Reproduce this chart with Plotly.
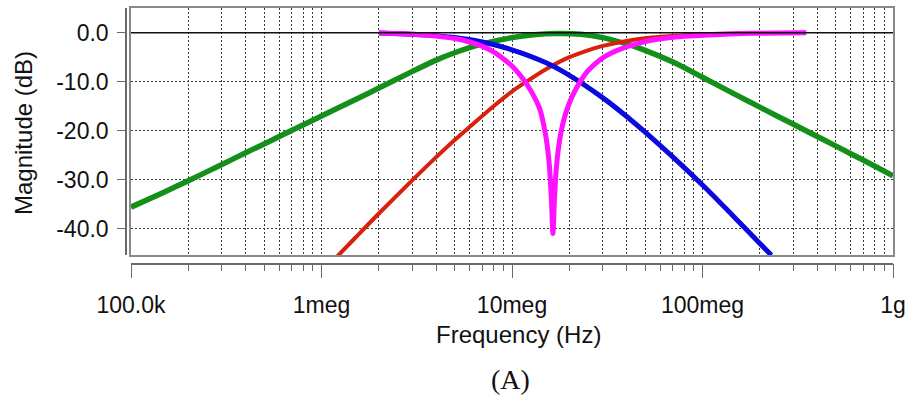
import plotly.graph_objects as go

# ---------------- data ----------------
FREQ_TICKS = [1e5, 1e6, 1e7, 1e8, 1e9]
FREQ_TICK_TEXT = ["100.0k", "1meg", "10meg", "100meg", "1g"]
FREQ_MINOR = [m * d for d in (1e5, 1e6, 1e7, 1e8) for m in range(2, 10)]
DB_TICKS = [0, -10, -20, -30, -40]
DB_TICK_TEXT = ["0.0", "-10.0", "-20.0", "-30.0", "-40.0"]

# band-pass (green)
BP_FREQ = [1e5, 1.5e5, 2e5, 3e5, 4e5, 5e5, 7e5, 1e6, 1.5e6, 2e6, 3e6, 4e6, 5e6, 7e6,
           1e7, 1.3e7, 1.7e7, 2.3e7, 3e7, 4e7, 5e7, 7e7, 1e8, 1.5e8, 2e8, 3e8, 4.3e8,
           6e8, 8e8, 1e9]
BP_DB = [-35.6, -32.5, -30.2, -26.9, -24.5, -22.7, -19.9, -17.0, -13.7, -11.3, -7.9,
         -5.6, -4.1, -2.3, -1.0, -0.4, -0.15, -0.3, -1.0, -2.3, -3.6, -6.0, -9.1,
         -12.7, -15.2, -18.7, -21.8, -24.7, -27.2, -29.2]

# low-pass (blue)
LP_FREQ = [2e6, 3e6, 4e6, 5e6, 7e6, 1e7, 1.5e7, 2e7, 3e7, 4e7, 5e7, 7e7, 1e8, 1.5e8,
           2e8, 2.3e8]
LP_DB = [-0.05, -0.3, -0.6, -1.0, -1.9, -3.5, -6.1, -8.7, -13.3, -17.1, -20.3, -25.4,
         -31.1, -38.0, -43.0, -45.4]

# high-pass (red)
HP_FREQ = [1.2e6, 1.5e6, 2e6, 3e6, 4e6, 5e6, 6e6, 8e6, 1e7, 1.2e7, 1.5e7, 2e7, 2.5e7,
           3e7, 4e7, 5e7, 6e7, 8e7, 1e8, 1.5e8, 2e8, 3.5e8]
HP_DB = [-45.8, -41.9, -36.9, -30.1, -25.4, -21.9, -19.2, -15.0, -12.0, -9.9, -7.5,
         -5.0, -3.6, -2.7, -1.7, -1.15, -0.85, -0.5, -0.33, -0.15, -0.08, 0.0]

# notch (magenta)
BS_FREQ = [2e6, 3e6, 4e6, 5e6, 6e6, 7e6, 8e6, 9e6, 1e7, 1.1e7, 1.2e7, 1.3e7, 1.4e7,
           1.47e7, 1.52e7, 1.57e7, 1.61e7, 1.64e7, 1.67e7, 1.71e7, 1.78e7, 1.85e7,
           1.95e7, 2.07e7, 2.28e7, 2.5e7, 2.9e7, 3.3e7, 3.8e7, 4.5e7, 5e7, 6.2e7,
           8e7, 1.14e8, 1.5e8, 2e8, 3.5e8]
BS_DB = [-0.05, -0.3, -0.7, -1.2, -1.9, -2.8, -3.9, -5.3, -6.8, -8.6, -10.6, -12.9,
         -15.6, -19.0, -22.2, -27.0, -34.0, -41.0, -34.0, -27.5, -21.8, -18.5, -15.5,
         -13.0, -10.0, -7.8, -5.5, -4.2, -3.2, -2.3, -1.8, -1.2, -0.75, -0.4, -0.2,
         -0.1, 0.0]

# flat 0 dB reference (black)
REF_FREQ = [1e5, 1e9]
REF_DB = [0.0, 0.0]

# ---------------- figure ----------------
W, H = 911, 396
PX_L, PX_R, PX_T, PX_B = 131, 893, 8, 255
X_DOM = [PX_L / W, PX_R / W]
Y_DOM = [1 - PX_B / H, 1 - PX_T / H]
Y_RANGE = [-45.37, 5.04]
X_RANGE = [5, 9]

FONT = "Liberation Sans, Arial, Helvetica, sans-serif"
GRID = "#3a3a3a"
DOTS = "1.5px,2.5px"

fig = go.Figure()

series = [
    (BP_FREQ, BP_DB, "#14901a", 5.5),
    (HP_FREQ, HP_DB, "#d8200c", 4),
    (LP_FREQ, LP_DB, "#0a0ae0", 5),
    (BS_FREQ, BS_DB, "#ff12ff", 5),
]
for fx, dby, col, w in series:
    fig.add_trace(go.Scatter(x=fx, y=dby, mode="lines",
                             line=dict(color=col, width=w, shape="spline", smoothing=0.8),
                             showlegend=False, hoverinfo="skip", cliponaxis=True))

fig.add_trace(go.Scatter(x=REF_FREQ, y=REF_DB, mode="lines",
                         line=dict(color="#111111", width=1.6),
                         showlegend=False, hoverinfo="skip"))

# empty trace so the detached axes form their own subplot
fig.add_trace(go.Scatter(x=[], y=[], xaxis="x2", yaxis="y2", showlegend=False))

fig.update_layout(
    width=W, height=H,
    margin=dict(l=0, r=0, t=0, b=0, autoexpand=False),
    paper_bgcolor="white", plot_bgcolor="white",
    font=dict(family=FONT, size=23, color="#111111"),
    xaxis=dict(
        type="log", range=X_RANGE, domain=X_DOM, automargin=False,
        showline=True, mirror=True, linecolor="#8a8a8a", linewidth=1.5,
        ticks="", showticklabels=False,
        tickvals=FREQ_TICKS,
        showgrid=True, gridcolor=GRID, gridwidth=1, griddash=DOTS,
        minor=dict(tickvals=FREQ_MINOR, showgrid=True, gridcolor=GRID,
                   gridwidth=1, griddash=DOTS, ticks=""),
        zeroline=False,
    ),
    yaxis=dict(
        range=Y_RANGE, domain=Y_DOM, automargin=False,
        showline=True, mirror=True, linecolor="#8a8a8a", linewidth=1.5,
        ticks="", showticklabels=False,
        tickvals=DB_TICKS,
        showgrid=True, gridcolor=GRID, gridwidth=1, griddash=DOTS,
        zeroline=False,
    ),
    xaxis2=dict(
        type="log", range=X_RANGE, overlaying="x", anchor="free", automargin=False,
        position=1 - 263.5 / H, side="bottom",
        showline=True, linecolor="#6a6a6a", linewidth=1.5,
        tickvals=FREQ_TICKS, ticktext=FREQ_TICK_TEXT,
        ticks="outside", ticklen=14, tickwidth=1.3, tickcolor="#6a6a6a",
        minor=dict(tickvals=FREQ_MINOR, ticks="outside", ticklen=7,
                   tickwidth=1.2, tickcolor="#6a6a6a", showgrid=False),
        showgrid=False, zeroline=False,
        ticklabelstandoff=7,
        tickfont=dict(family=FONT, size=23, color="#111111"),
    ),
    yaxis2=dict(
        range=Y_RANGE, overlaying="y", anchor="free", automargin=False,
        position=126 / W, side="left",
        showline=True, linecolor="#6a6a6a", linewidth=1.5,
        tickvals=DB_TICKS, ticktext=DB_TICK_TEXT,
        ticks="outside", ticklen=8, tickwidth=1.3, tickcolor="#6a6a6a",
        showgrid=False, zeroline=False,
        ticklabelstandoff=4,
        tickfont=dict(family=FONT, size=23, color="#111111"),
    ),
    annotations=[
        dict(text="Frequency (Hz)", xref="paper", yref="paper",
             x=518 / W, y=1 - 334 / H, xanchor="center", yanchor="middle",
             showarrow=False, font=dict(family=FONT, size=24, color="#111111")),
        dict(text="Magnitude (dB)", xref="paper", yref="paper",
             x=23 / W, y=1 - 133 / H, xanchor="center", yanchor="middle",
             textangle=-90, showarrow=False,
             font=dict(family=FONT, size=24, color="#111111")),
        dict(text="(A)", xref="paper", yref="paper",
             x=510.5 / W, y=1 - 379 / H, xanchor="center", yanchor="middle",
             showarrow=False,
             font=dict(family="Liberation Serif, Times New Roman, serif", size=28,
                       color="#111111")),
    ],
)

fig.write_html("out.html")
